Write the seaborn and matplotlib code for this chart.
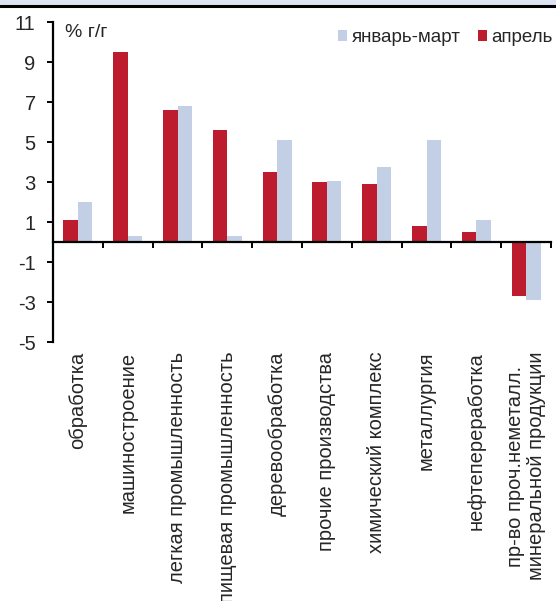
import matplotlib
matplotlib.use("Agg")
import matplotlib.pyplot as plt
from matplotlib.patches import Patch, Rectangle
from matplotlib.lines import Line2D
import pandas as pd
import seaborn as sns

# Industry groups, growth in % year-on-year
categories = [
    "обработка",
    "машиностроение",
    "легкая промышленность",
    "пищевая промышленность",
    "деревообработка",
    "прочие производства",
    "химический комплекс",
    "металлургия",
    "нефтепереработка",
    "пр-во проч.неметалл.\nминеральной продукции",
]
april = [1.1, 9.5, 6.6, 5.6, 3.5, 3.0, 2.9, 0.8, 0.5, -2.7]
jan_mar = [2.0, 0.3, 6.8, 0.3, 5.1, 3.05, 3.75, 5.1, 1.1, -2.9]
series_names = ["апрель", "январь-март"]
y_ticks = [11, 9, 7, 5, 3, 1, -1, -3, -5]

RED = "#bd1b2e"
BLUE = "#c3cfe4"

df = pd.DataFrame({
    "cat": categories * 2,
    "period": [series_names[0]] * len(categories) + [series_names[1]] * len(categories),
    "value": april + jan_mar,
})

sns.set_theme(style="white")
plt.rcParams["font.family"] = ["Liberation Sans", "DejaVu Sans"]
plt.rcParams["font.size"] = 14

fig = plt.figure(figsize=(5.56, 6.01), dpi=100)
W, H = 556, 601
left, right, top, bottom = 53, 551, 22, 342
ax = fig.add_axes([left / W, 1 - bottom / H, (right - left) / W, (bottom - top) / H])

sns.barplot(
    data=df, x="cat", y="value", hue="period",
    order=categories, hue_order=series_names,
    palette={series_names[0]: RED, series_names[1]: BLUE},
    width=0.58, linewidth=0, saturation=1, legend=False, ax=ax,
)

ax.set_ylim(-5, 11)
ax.set_xlim(-0.5, len(categories) - 0.5)
ax.set_yticks(y_ticks)
ax.set_yticklabels([str(t) for t in y_ticks], fontsize=14.5)
ax.set_xlabel("")
ax.set_ylabel("")

for s in ["top", "right"]:
    ax.spines[s].set_visible(False)
ax.spines["left"].set_color("black")
ax.spines["left"].set_linewidth(1.6)
ax.spines["bottom"].set_color("black")
ax.spines["bottom"].set_linewidth(1.6)
ax.spines["bottom"].set_position(("data", 0))

# boundary ticks on the zero line, labels on a separate axis at the bottom
ax.set_xticks([i + 0.5 for i in range(len(categories))])
ax.set_xticklabels([])
ax.tick_params(axis="x", which="major", direction="out", length=4.5, width=1.4,
               color="black", bottom=True)
ax.tick_params(axis="y", which="major", direction="out", length=4.5, width=1.4,
               color="black", left=True, pad=8)

sec = ax.secondary_xaxis("bottom")
sec.set_xticks(range(len(categories)))
sec.set_xticklabels(categories, rotation=90, fontsize=14.5, ha="center", va="top",
                    multialignment="center", linespacing=1.15)
sec.tick_params(length=0, pad=7)
sec.spines["bottom"].set_visible(False)

ax.text(0.024, 0.968, "% г/г", transform=ax.transAxes, fontsize=14,
        ha="left", va="center")

handles = [Patch(facecolor=BLUE, edgecolor="none", label=series_names[1]),
           Patch(facecolor=RED, edgecolor="none", label=series_names[0])]
ax.legend(handles=handles, loc="upper right", bbox_to_anchor=(1.004, 0.978),
          ncol=2, frameon=False, fontsize=13.5, handlelength=0.5, handleheight=0.5,
          handletextpad=0.25, columnspacing=0.9, borderaxespad=0, borderpad=0)

# header band
fig.add_artist(Rectangle((0, 1 - 6 / H), 1, 6 / H, transform=fig.transFigure,
                         facecolor="#dde3f0", edgecolor="none"))
fig.add_artist(Line2D([0, 1], [1 - 6 / H, 1 - 6 / H], transform=fig.transFigure,
                      color="black", linewidth=2.2))

fig.savefig("out.png", dpi=100)
